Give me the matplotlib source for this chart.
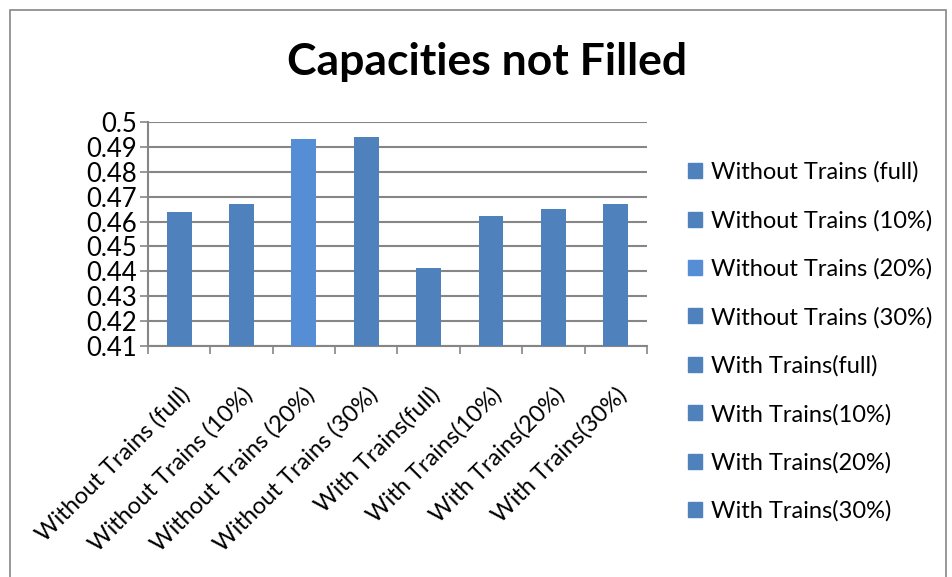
import matplotlib.pyplot as plt
from matplotlib.patches import Patch, Rectangle
import numpy as np

categories = [
    "Without Trains (full)",
    "Without Trains (10%)",
    "Without Trains (20%)",
    "Without Trains (30%)",
    "With Trains(full)",
    "With Trains(10%)",
    "With Trains(20%)",
    "With Trains(30%)",
]
values = [0.4638, 0.4669, 0.4931, 0.4939, 0.4412, 0.4623, 0.4650, 0.4671]
colors = ["#4F81BD", "#4F81BD", "#558ED5", "#4F81BD",
          "#4F81BD", "#4F81BD", "#4F81BD", "#4F81BD"]

plt.rcParams["font.family"] = ["Lato", "DejaVu Sans"]

fig = plt.figure(figsize=(9.52, 5.77), dpi=100)
ax = fig.add_axes([0.1555, 0.4003, 0.524, 0.3883])

x = np.arange(len(categories))
bars = ax.bar(x, values, width=0.4, color=colors, zorder=3)

ax.set_xlim(-0.5, len(categories) - 0.5)
ax.set_ylim(0.41, 0.5)
ax.set_yticks(np.arange(41, 51) / 100)
ax.set_yticklabels([f"{v / 100:g}" for v in range(41, 51)], fontsize=18.5)
ax.yaxis.grid(True, color="#868686", linewidth=1.5, zorder=0)

ax.set_xticks(x)
ax.set_xticklabels(categories, rotation=45, ha="right", rotation_mode="anchor", fontsize=17)
ax.set_xticks(np.arange(len(categories) + 1) - 0.5, minor=True)
ax.tick_params(axis="x", which="major", length=0, pad=27)
ax.tick_params(axis="x", which="minor", length=6, width=1.2, color="#868686")
ax.tick_params(axis="y", length=6, width=1.2, color="#868686", pad=2)

for side in ["top", "right"]:
    ax.spines[side].set_visible(False)
for side in ["left", "bottom"]:
    ax.spines[side].set_color("#868686")
    ax.spines[side].set_linewidth(1.5)

fig.text(0.512, 0.893, "Capacities not Filled", ha="center", va="center",
         fontsize=32, fontweight="bold")

handles = [Patch(color=c) for c in colors]
fig.legend(handles, categories, loc="upper left", bbox_to_anchor=(0.70, 0.757),
           frameon=False, fontsize=17, labelspacing=1.14, handlelength=0.6,
           handleheight=0.6, handletextpad=0.4)

fig.patches.append(Rectangle((0.011, -0.01), 0.983, 0.993, transform=fig.transFigure,
                             fill=False, edgecolor="#868686", linewidth=1.2))

fig.savefig("out.png", dpi=100)
